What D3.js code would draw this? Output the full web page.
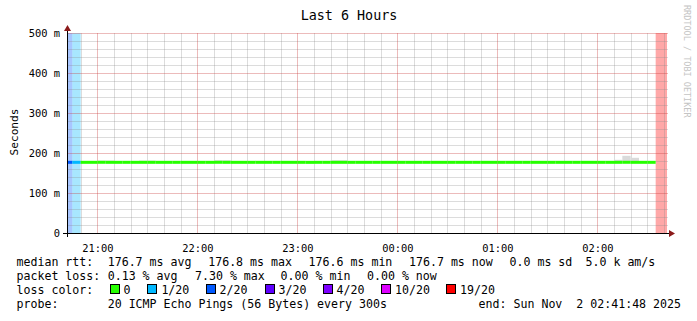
<!DOCTYPE html>
<html><head><meta charset="utf-8">
<script src="https://cdn.jsdelivr.net/npm/d3@7"></script>
<style>
html,body{margin:0;padding:0;background:#fff;}
text{font-family:"DejaVu Sans Mono",monospace;white-space:pre;}
</style></head>
<body><svg id="c" width="697" height="321"></svg>
<script>
// ---- data ----
const title = "Last 6 Hours";
const yLabel = "Seconds";
const sideLabel = "RRDTOOL / TOBI OETIKER";
const firstStepStart = "2025-11-01T20:40:00Z";
const stepMinutes = 5;
const domainStart = "2025-11-01T20:41:48Z";
const domainEnd = "2025-11-02T02:41:48Z";
// median rtt (ms) per 5-minute step
const medianMs = [
 176.7,176.7,176.7,176.7,176.8,176.7,176.7,176.7,176.7,176.7,176.7,176.7,
 176.7,176.7,176.7,176.7,176.7,176.7,176.8,176.7,176.7,176.7,176.7,176.7,
 176.7,176.7,176.7,176.7,176.7,176.6,176.7,176.7,176.7,176.7,176.7,176.7,
 176.7,176.7,176.7,176.7,176.7,176.7,176.7,176.7,176.7,176.7,176.7,176.7,
 176.7,176.7,176.7,176.7,176.7,176.7,176.7,176.7,176.7,176.7,176.7,176.7,
 176.7,176.7,176.7,176.7,176.7,176.7,176.7,176.8,176.7,176.7,176.7,null,null
];
// lost pings (out of 20) per step
const lossCount = [
 2,1,0,0,0,0,0,0,0,0,0,0,
 0,0,0,0,0,0,0,0,0,0,0,0,
 0,0,0,0,0,0,0,0,0,0,0,0,
 0,0,0,0,0,0,0,0,0,0,0,0,
 0,0,0,0,0,0,0,0,0,0,0,0,
 0,0,0,0,0,0,0,0,0,0,0,19,19
];
// upper edge of smoke (ms) where visible above the median line
const smokeTopMs = [
 null,null,null,null,181,181,null,null,null,181,181,null,
 null,null,null,null,null,null,182,182,null,null,null,null,
 null,null,null,null,null,null,null,null,182,182,null,null,
 null,null,null,null,null,null,null,null,null,null,null,null,
 null,null,null,null,null,null,null,null,null,null,null,null,
 null,null,null,null,null,null,183,193,188,null,null,null,null
];
const yTicks = [0,100,200,300,400,500];
const yTickLabels = ["0","100 m","200 m","300 m","400 m","500 m"];
const lossThresholds = [0,1,2,3,4,10,19];
const lossLabels = ["0","1/20","2/20","3/20","4/20","10/20","19/20"];
const lossColors = ["#26ff00","#00b8ff","#0059ff","#5e00ff","#7e00ff","#dd00ff","#ff0000"];
const legendRtt = [["median rtt:",16.5],["176.7 ms avg",107.7],["176.8 ms max",208.2],["176.6 ms min",308.6],["176.7 ms now",409],["0.0 ms sd",509.5],["5.0 k am/s",585.5]];
const legendLoss = [["packet loss:",16.5],["0.13 % avg",107.7],["7.30 % max",195],["0.00 % min",280.6],["0.00 % now",367]];
const legendLossColorTitle = "loss color:";
const legendLossColorX = [109.5,147.4,205.5,264.5,322.6,381,446];
const legendProbe = [["probe:",16.5],["20 ICMP Echo Pings (56 Bytes) every 300s",107.7]];
const legendEnd = "end: Sun Nov  2 02:41:48 2025";

// ---- layout ----
const L = 67, R = 667, T = 33, B = 233;
const svg = d3.select("#c");
svg.append("rect").attr("width",697).attr("height",321).attr("fill","#fff");

const x = d3.scaleUtc().domain([new Date(domainStart), new Date(domainEnd)]).range([L, R]);
const y = d3.scaleLinear().domain([0, 500]).range([B, T]);

const t0 = new Date(firstStepStart);
const steps = medianMs.map((m, i) => ({
  start: d3.utcMinute.offset(t0, stepMinutes*i),
  end: d3.utcMinute.offset(t0, stepMinutes*(i+1)),
  median: m, loss: lossCount[i], smoke: smokeTopMs[i]
}));
function lossIdx(n){ let k=0; lossThresholds.forEach((t,j)=>{ if(n>=t) k=j; }); return k; }

const clip = svg.append("defs").append("clipPath").attr("id","pc");
clip.append("rect").attr("x",L).attr("y",T).attr("width",R-L).attr("height",B-T);
const plot = svg.append("g").attr("clip-path","url(#pc)");

// loss background stripes
plot.selectAll("rect.loss").data(steps.filter(s=>s.loss>0)).join("rect")
  .attr("x", s=>x(s.start)).attr("width", s=>x(s.end)-x(s.start))
  .attr("y", T).attr("height", B-T)
  .attr("fill", s=>lossColors[lossIdx(s.loss)]).attr("fill-opacity",0.34);

// grid
const g = svg.append("g");
const minorY = d3.range(0, 501, 20).filter(v=>v%100!==0);
g.selectAll("line.my").data(minorY).join("line")
  .attr("x1",L).attr("x2",R+1).attr("y1",d=>Math.round(y(d))+0.5).attr("y2",d=>Math.round(y(d))+0.5)
  .attr("stroke","rgba(140,140,140,0.3)");
const minorX = x.ticks(d3.utcMinute.every(10)).filter(d=>d.getUTCMinutes()!==0);
g.selectAll("line.mx").data(minorX).join("line")
  .attr("x1",d=>Math.round(x(d))+0.5).attr("x2",d=>Math.round(x(d))+0.5).attr("y1",T).attr("y2",B)
  .attr("stroke","rgba(140,140,140,0.3)");
g.selectAll("line.My").data(yTicks.filter(v=>v>0)).join("line")
  .attr("x1",L).attr("x2",R+1).attr("y1",d=>Math.round(y(d))+0.5).attr("y2",d=>Math.round(y(d))+0.5)
  .attr("stroke","rgba(200,60,60,0.35)");
const hours = x.ticks(d3.utcHour.every(1));
g.selectAll("line.Mx").data(hours).join("line")
  .attr("x1",d=>Math.round(x(d))+0.5).attr("x2",d=>Math.round(x(d))+0.5).attr("y1",T).attr("y2",B)
  .attr("stroke","rgba(200,60,60,0.35)");

// smoke
const plot2 = svg.append("g").attr("clip-path","url(#pc)");
plot2.selectAll("rect.smoke").data(steps.filter(s=>s.smoke!=null && s.median!=null)).join("rect")
  .attr("x", s=>x(s.start)).attr("width", s=>x(s.end)-x(s.start))
  .attr("y", s=>y(s.smoke)).attr("height", s=>y(s.median)-y(s.smoke))
  .attr("fill","#dadada");

// median line segments coloured by loss
const seg = d3.line().x(d=>d[0]).y(d=>d[1]);
plot2.selectAll("path.med").data(steps.filter(s=>s.median!=null)).join("path")
  .attr("d", s=>seg([[x(s.start), y(s.median)],[x(s.end), y(s.median)]]))
  .attr("stroke", s=>lossColors[lossIdx(s.loss)]).attr("stroke-width",3).attr("fill","none");

// axes
svg.append("line").attr("x1",L-4).attr("x2",R+4).attr("y1",B+0.5).attr("y2",B+0.5).attr("stroke","#000");
svg.append("line").attr("x1",L+0.5).attr("x2",L+0.5).attr("y1",B+4).attr("y2",T-4).attr("stroke","#000");
svg.append("path").attr("d",`M${R+2},${B-3} L${R+8},${B+0.5} L${R+2},${B+4} Z`).attr("fill","#8b1a1a");
svg.append("path").attr("d",`M${L-3},${T-2} L${L+0.5},${T-8} L${L+4},${T-2} Z`).attr("fill","#8b1a1a");

// y tick labels
svg.selectAll("text.yt").data(yTicks).join("text")
  .attr("x",60).attr("y",d=>y(d)+4).attr("text-anchor","end")
  .attr("font-size","10.4px").attr("fill","#000").text((d,i)=>yTickLabels[i]);
// x tick labels
const fmt = d3.utcFormat("%H:%M");
svg.selectAll("text.xt").data(hours).join("text")
  .attr("x",d=>x(d)+0.5).attr("y",252).attr("text-anchor","middle")
  .attr("font-size","10.4px").attr("fill","#000").text(d=>fmt(d));

// title, labels
svg.append("text").attr("x",349).attr("y",20).attr("text-anchor","middle").attr("font-size","13.4px").text(title);
svg.append("text").attr("transform","translate(18,132) rotate(-90)").attr("text-anchor","middle")
  .attr("font-size","11.2px").text(yLabel);
svg.append("text").attr("transform","translate(684,5) rotate(90)").attr("text-anchor","start")
  .attr("font-size","8.5px").attr("fill","#c4c4c4").text(sideLabel);

// legend
const fs = "11.6px";
const rows = [266, 280, 293.6, 307.6];
svg.selectAll("text.l1").data(legendRtt).join("text").attr("x",d=>d[1]).attr("y",rows[0]).attr("font-size",fs).text(d=>d[0]);
svg.selectAll("text.l2").data(legendLoss).join("text").attr("x",d=>d[1]).attr("y",rows[1]).attr("font-size",fs).text(d=>d[0]);
svg.append("text").attr("x",16.5).attr("y",rows[2]).attr("font-size",fs).text(legendLossColorTitle);
const lg = svg.selectAll("g.lc").data(lossLabels).join("g");
lg.append("rect").attr("x",(d,i)=>Math.round(legendLossColorX[i])+0.5).attr("y",284.5).attr("width",9).attr("height",9)
  .attr("fill",(d,i)=>lossColors[i]).attr("stroke","#000");
lg.append("text").attr("x",(d,i)=>legendLossColorX[i]+14).attr("y",rows[2]).attr("font-size",fs).text(d=>d);
svg.selectAll("text.l4").data(legendProbe).join("text").attr("x",d=>d[1]).attr("y",rows[3]).attr("font-size",fs).text(d=>d[0]);
svg.append("text").attr("x",681).attr("y",rows[3]).attr("text-anchor","end").attr("font-size",fs).text(legendEnd);
</script></body></html>
